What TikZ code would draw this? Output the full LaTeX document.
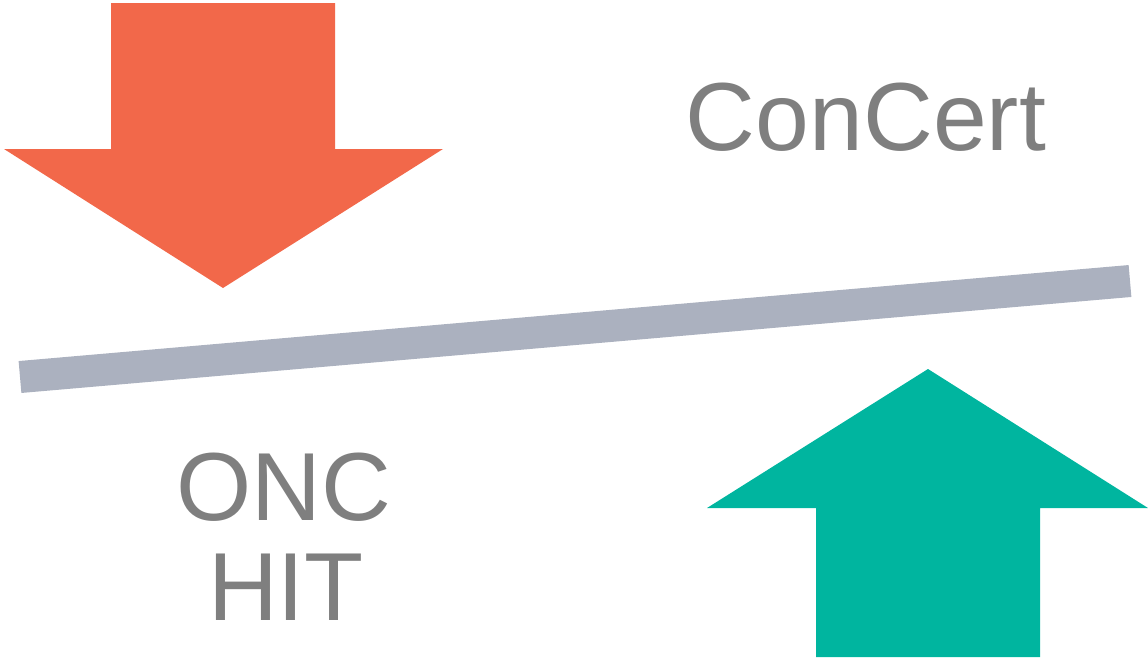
\documentclass[tikz,border=0pt]{standalone}
\usepackage{fontspec}
\setmainfont{Liberation Sans}
\usepackage{xcolor}
\definecolor{pushred}{HTML}{F2684A}
\definecolor{pushgreen}{HTML}{00B59F}
\definecolor{beamgray}{HTML}{ABB1BF}
\definecolor{labelgray}{HTML}{7F7F7F}

\begin{document}
\begin{tikzpicture}[
    x=0.01cm, y=-0.01cm,
    bigarrow/.style={draw=none},
    beam/.style={line width=0.32cm, draw=beamgray},
    tag/.style={font=\fontsize{27.5}{28.5}\selectfont, text=labelgray, inner sep=0pt, align=center}
]
    \useasboundingbox (0,0) rectangle (1148,657);

    % Arrows
    \fill[bigarrow, pushred] (111,3) -- (335,3) -- (335,149) -- (443,149) -- (223,288)
        -- (4,149) -- (111,149) -- cycle;
    \fill[bigarrow, pushgreen] (816,657) -- (1040,657) -- (1040,508) -- (1148,508) -- (928,369)
        -- (707,508) -- (816,508) -- cycle;

    % Beam
    \coordinate (beamleft) at (20,377);
    \coordinate (beamright) at (1130,281);
    \draw[beam] (beamleft) -- (beamright);

    % Labels
    \node[tag, anchor=base] (concert) at (866,150) {ConCert};
    \node[tag, anchor=base] (onc) at (284,520) {ONC};
    \node[tag, anchor=base] (hit) at (286,620) {HIT};
\end{tikzpicture}
\end{document}
